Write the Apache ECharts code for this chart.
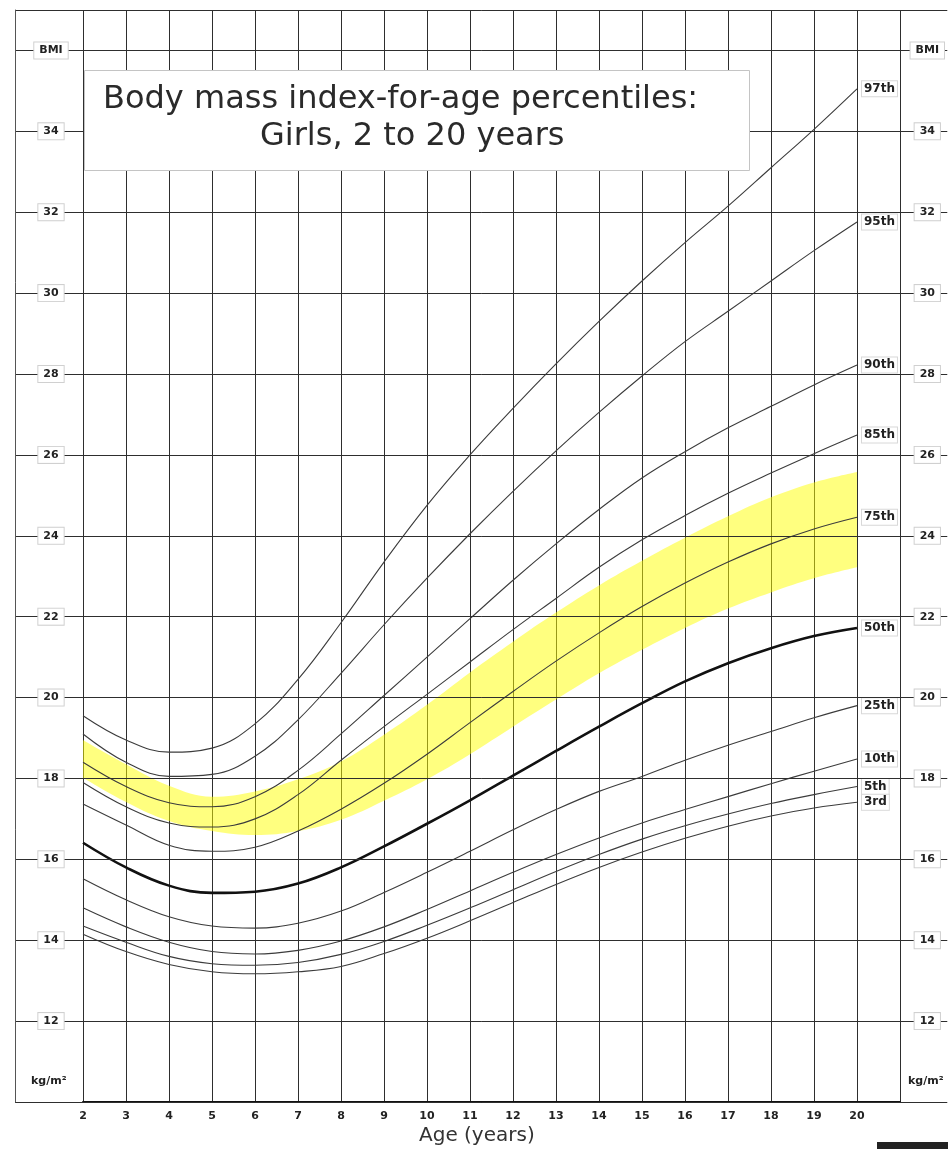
<!DOCTYPE html>
<html>
<head>
<meta charset="utf-8">
<title>Body mass index-for-age percentiles: Girls, 2 to 20 years</title>
<script src="https://cdn.jsdelivr.net/npm/echarts@6/dist/echarts.min.js"></script>
<style>
	html, body { margin: 0; padding: 0; background: #fff; }
	#bmi_chart { width: 948px; height: 1149px; }
</style>
</head>
<body>
<div id="bmi_chart"></div>
<script>
// Ages 2..20 (one value per year), BMI in kg/m2
var ages = ['2', '3', '4', '5', '6', '7', '8', '9', '10', '11', '12', '13', '14', '15', '16', '17', '18', '19', '20'];

var p97 = [19.55, 18.95, 18.65, 18.75, 19.35, 20.45, 21.85, 23.35, 24.75, 26.0, 27.15, 28.25, 29.3, 30.3, 31.25, 32.15, 33.1, 34.05, 35.05];
var p95 = [19.1, 18.4, 18.05, 18.1, 18.55, 19.45, 20.6, 21.8, 22.95, 24.05, 25.1, 26.1, 27.05, 27.95, 28.8, 29.55, 30.3, 31.05, 31.76];
var p90 = [18.4, 17.8, 17.4, 17.3, 17.55, 18.2, 19.1, 20.05, 21.0, 21.95, 22.9, 23.8, 24.65, 25.43, 26.08, 26.67, 27.2, 27.73, 28.22];
var p85 = [17.9, 17.3, 16.9, 16.8, 17.0, 17.6, 18.45, 19.28, 20.08, 20.88, 21.68, 22.45, 23.22, 23.9, 24.5, 25.05, 25.55, 26.03, 26.49];
var p75 = [17.37, 16.85, 16.35, 16.2, 16.3, 16.7, 17.24, 17.88, 18.6, 19.38, 20.15, 20.9, 21.6, 22.25, 22.83, 23.35, 23.8, 24.17, 24.46];
var p50 = [16.41, 15.8, 15.35, 15.17, 15.2, 15.4, 15.8, 16.32, 16.88, 17.46, 18.07, 18.68, 19.28, 19.86, 20.4, 20.85, 21.22, 21.52, 21.72];
var p25 = [15.52, 15.0, 14.58, 14.35, 14.3, 14.42, 14.72, 15.18, 15.68, 16.2, 16.73, 17.23, 17.68, 18.05, 18.45, 18.82, 19.16, 19.5, 19.8];
var p10 = [14.8, 14.33, 13.95, 13.72, 13.66, 13.75, 13.98, 14.33, 14.76, 15.22, 15.68, 16.12, 16.53, 16.9, 17.23, 17.55, 17.87, 18.18, 18.48];
var p5 = [14.35, 13.95, 13.6, 13.42, 13.38, 13.45, 13.65, 13.97, 14.37, 14.8, 15.25, 15.7, 16.12, 16.5, 16.83, 17.12, 17.38, 17.6, 17.8];
var p3 = [14.15, 13.72, 13.4, 13.22, 13.17, 13.22, 13.35, 13.67, 14.05, 14.48, 14.93, 15.38, 15.8, 16.18, 16.52, 16.82, 17.07, 17.27, 17.41];

// yellow band (upper / lower edge)
var bandTop = [18.95, 18.35, 17.82, 17.55, 17.68, 17.98, 18.42, 19.08, 19.82, 20.62, 21.38, 22.1, 22.77, 23.38, 23.95, 24.48, 24.95, 25.32, 25.58];
var bandBottom = [18.02, 17.42, 16.95, 16.7, 16.6, 16.7, 16.98, 17.45, 17.98, 18.6, 19.28, 19.95, 20.6, 21.18, 21.72, 22.2, 22.6, 22.95, 23.22];

var percentileNames = ['97th', '95th', '90th', '85th', '75th', '50th', '25th', '10th', '5th', '3rd'];
var percentileValues = [p97, p95, p90, p85, p75, p50, p25, p10, p5, p3];

// x categories: one extra empty column (age 21) on the right
var xCategories = ages.concat(['']);
var yTopLabel = 'BMI';
var unitLabel = 'kg/m²';

var tickFont = 'DejaVu Sans';

// Initialize chart
// ------------------------------
var bmi_chart = echarts.init(document.getElementById('bmi_chart'), null, { renderer: 'canvas' });

// Series
// ------------------------------
var series = [];

// band: transparent base + filled difference, stacked
var bandDiff = [];
for (var i = 0; i < ages.length; i++) {
	bandDiff.push(+(bandTop[i] - bandBottom[i]).toFixed(2));
}
series.push({
	name: 'bandBase',
	type: 'line',
	xAxisIndex: 0,
	yAxisIndex: 0,
	stack: 'band',
	smooth: 0.4,
	symbol: 'none',
	silent: true,
	lineStyle: { width: 0, opacity: 0 },
	data: bandBottom,
	z: 1
});
series.push({
	name: 'band',
	type: 'line',
	xAxisIndex: 0,
	yAxisIndex: 0,
	stack: 'band',
	smooth: 0.4,
	symbol: 'none',
	silent: true,
	lineStyle: { width: 0, opacity: 0 },
	areaStyle: { color: 'rgba(255, 255, 0, 0.5)', opacity: 1 },
	data: bandDiff,
	z: 1
});

for (var k = 0; k < percentileNames.length; k++) {
	var isMedian = percentileNames[k] == '50th';
	series.push({
		name: percentileNames[k],
		type: 'line',
		xAxisIndex: 0,
		yAxisIndex: 0,
		smooth: 0.4,
		symbol: 'none',
		silent: true,
		lineStyle: {
			color: isMedian ? '#111' : '#3c3c3c',
			width: isMedian ? 2.6 : 1.1
		},
		endLabel: {
			show: true,
			distance: 5,
			formatter: '{a}',
			fontFamily: tickFont,
			fontWeight: 'bold',
			fontSize: 12,
			color: '#222',
			backgroundColor: '#fff',
			borderColor: '#d8d8d8',
			borderWidth: 1,
			padding: [2, 2, 1, 2]
		},
		data: percentileValues[k],
		z: 3
	});
}

// Y axis label style
var yLabel = {
	inside: true,
	align: 'center',
	showMinLabel: false,
	showMaxLabel: false,
	fontFamily: tickFont,
	fontWeight: 'bold',
	fontSize: 11,
	color: '#222',
	backgroundColor: '#fff',
	borderColor: '#d0d0d0',
	borderWidth: 1,
	padding: [3, 5, 2, 5],
	formatter: function(v) {
		return v == 36 ? yTopLabel : String(v);
	}
};

// Options
// ------------------------------
var bmi_options = {
	animation: false,
	grid: [
		{ left: 83, right: 48, top: 10, bottom: 47 },
		{ left: 15, right: 0, top: 10, bottom: 47 }
	],
	xAxis: [{
		gridIndex: 0,
		type: 'category',
		boundaryGap: false,
		data: xCategories,
		axisLine: { show: true, lineStyle: { color: '#111', width: 2 } },
		axisTick: { show: false },
		splitLine: { show: true, interval: 0, lineStyle: { color: '#2e2e2e', width: 1 } },
		axisLabel: {
			interval: 0,
			margin: 9,
			fontFamily: tickFont,
			fontWeight: 'bold',
			fontSize: 11,
			color: '#222'
		}
	}, {
		gridIndex: 1,
		type: 'value',
		min: 0,
		max: 1,
		show: false
	}],
	yAxis: [{
		gridIndex: 0,
		type: 'value',
		min: 10,
		max: 37,
		show: false
	}, {
		gridIndex: 1,
		type: 'value',
		position: 'left',
		min: 10,
		max: 37,
		interval: 2,
		axisLine: { show: true, lineStyle: { color: '#555', width: 1 } },
		axisTick: { show: false },
		splitLine: { show: true, lineStyle: { color: '#2e2e2e', width: 1 } },
		axisLabel: Object.assign({ margin: 36 }, yLabel),
		z: 4
	}, {
		gridIndex: 1,
		type: 'value',
		position: 'right',
		min: 10,
		max: 37,
		interval: 2,
		axisLine: { show: false },
		axisTick: { show: false },
		splitLine: { show: false },
		axisLabel: Object.assign({ margin: 20 }, yLabel),
		z: 4
	}],
	graphic: [
		// title box
		{
			type: 'rect',
			left: 84,
			top: 70,
			z: 100,
			shape: { width: 665, height: 100 },
			style: { fill: '#fff', stroke: '#c4c4c4', lineWidth: 1 }
		},
		{
			type: 'text',
			left: 103,
			top: 84,
			z: 101,
			style: {
				text: 'Body mass index-for-age percentiles:',
				font: '32px "DejaVu Sans"',
				fill: '#2a2a2a'
			}
		},
		{
			type: 'text',
			left: 260,
			top: 121,
			z: 101,
			style: {
				text: 'Girls, 2 to 20 years',
				font: '32px "DejaVu Sans"',
				fill: '#2a2a2a'
			}
		},
		// units
		{
			type: 'text',
			left: 31,
			top: 1076,
			z: 101,
			style: { text: unitLabel, font: 'bold 11px "DejaVu Sans"', fill: '#222' }
		},
		{
			type: 'text',
			left: 908,
			top: 1076,
			z: 101,
			style: { text: unitLabel, font: 'bold 11px "DejaVu Sans"', fill: '#222' }
		},
		// axis title
		{
			type: 'text',
			left: 419,
			top: 1126,
			z: 101,
			style: { text: 'Age (years)', font: '20px "DejaVu Sans"', fill: '#333' }
		},
		// cut-off mark at the bottom right
		{
			type: 'rect',
			left: 877,
			top: 1142,
			z: 101,
			shape: { width: 71, height: 7 },
			style: { fill: '#222' }
		}
	],
	series: series
};

// Apply options
// ------------------------------
bmi_chart.setOption(bmi_options);

window.onresize = function() {
	setTimeout(function() {
		bmi_chart.resize();
	}, 200);
};
</script>
</body>
</html>
